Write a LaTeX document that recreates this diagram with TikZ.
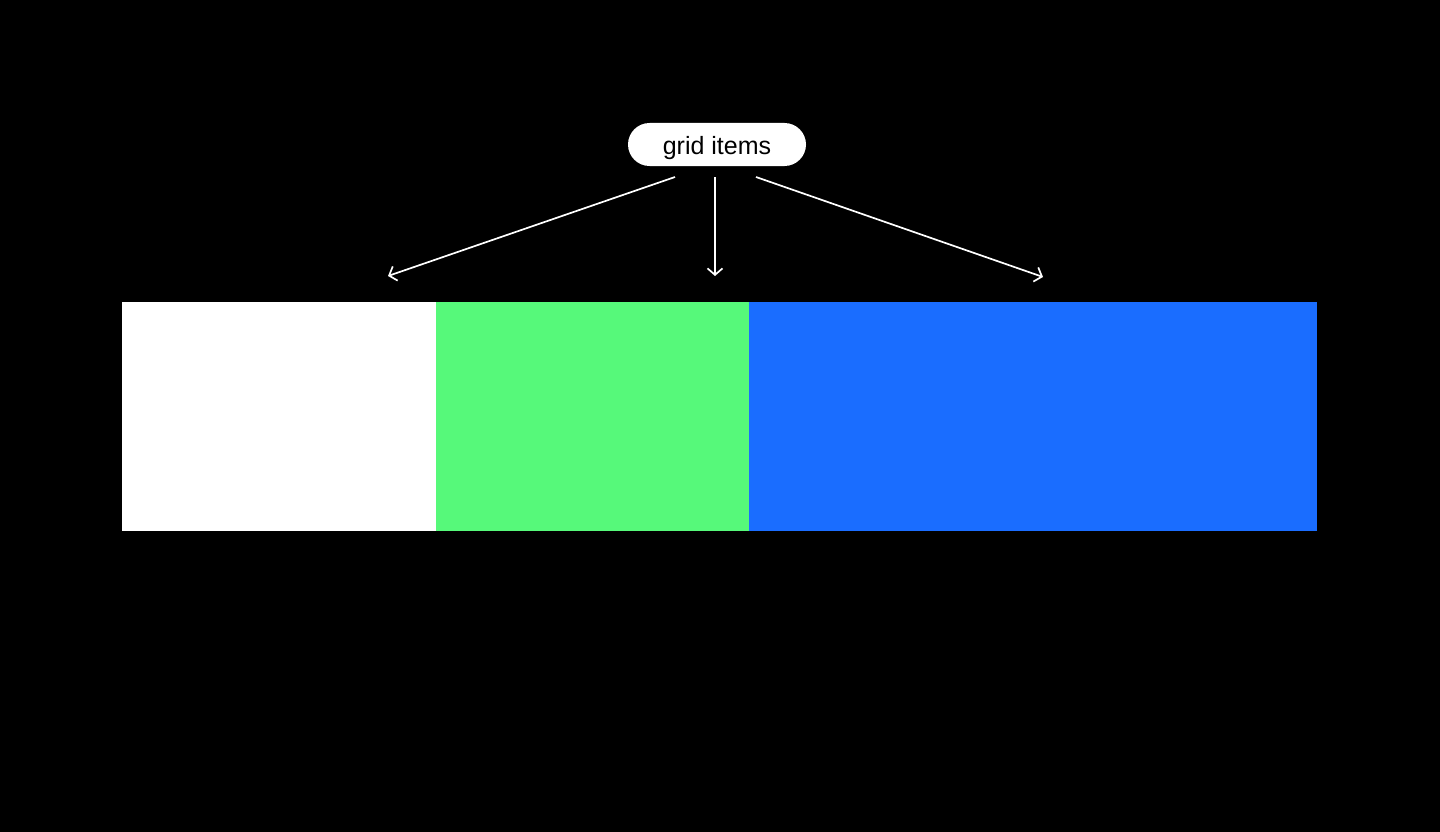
\documentclass[tikz,border=0pt]{standalone}
\usepackage{fontspec}
\setmainfont{Liberation Sans}
\usetikzlibrary{arrows.meta}
\definecolor{gitemgreen}{HTML}{56F97A}
\definecolor{gitemblue}{HTML}{1A6DFF}
\begin{document}
\begin{tikzpicture}[x=1pt,y=-1pt,
  pill/.style={fill=white,rounded corners=21.5pt,minimum width=178pt,minimum height=43pt,inner sep=0pt,font=\fontsize{25}{29}\selectfont,text=black},
  conn/.style={draw=white,line width=1.7pt,-{Straight Barb[length=6.5pt,width=15pt,line width=1.7pt]}}]
\fill[black] (0,0) rectangle (1440,832);
\useasboundingbox (0,0) rectangle (1440,832);
\fill[white] (122,302) rectangle (436,531);
\fill[gitemgreen] (436,302) rectangle (749,531);
\fill[gitemblue] (749,302) rectangle (1317,531);
\node[pill] (lbl) at (717,144.5) {\raisebox{-3pt}[18pt][5pt]{grid items}};
\coordinate (s1) at (675,177);
\coordinate (s2) at (715,177);
\coordinate (s3) at (756,177);
\coordinate (e1) at (388,276);
\coordinate (e2) at (715,276);
\coordinate (e3) at (1043,277);
\draw[conn] (s1) -- (e1);
\draw[conn] (s2) -- (e2);
\draw[conn] (s3) -- (e3);
\end{tikzpicture}
\end{document}
